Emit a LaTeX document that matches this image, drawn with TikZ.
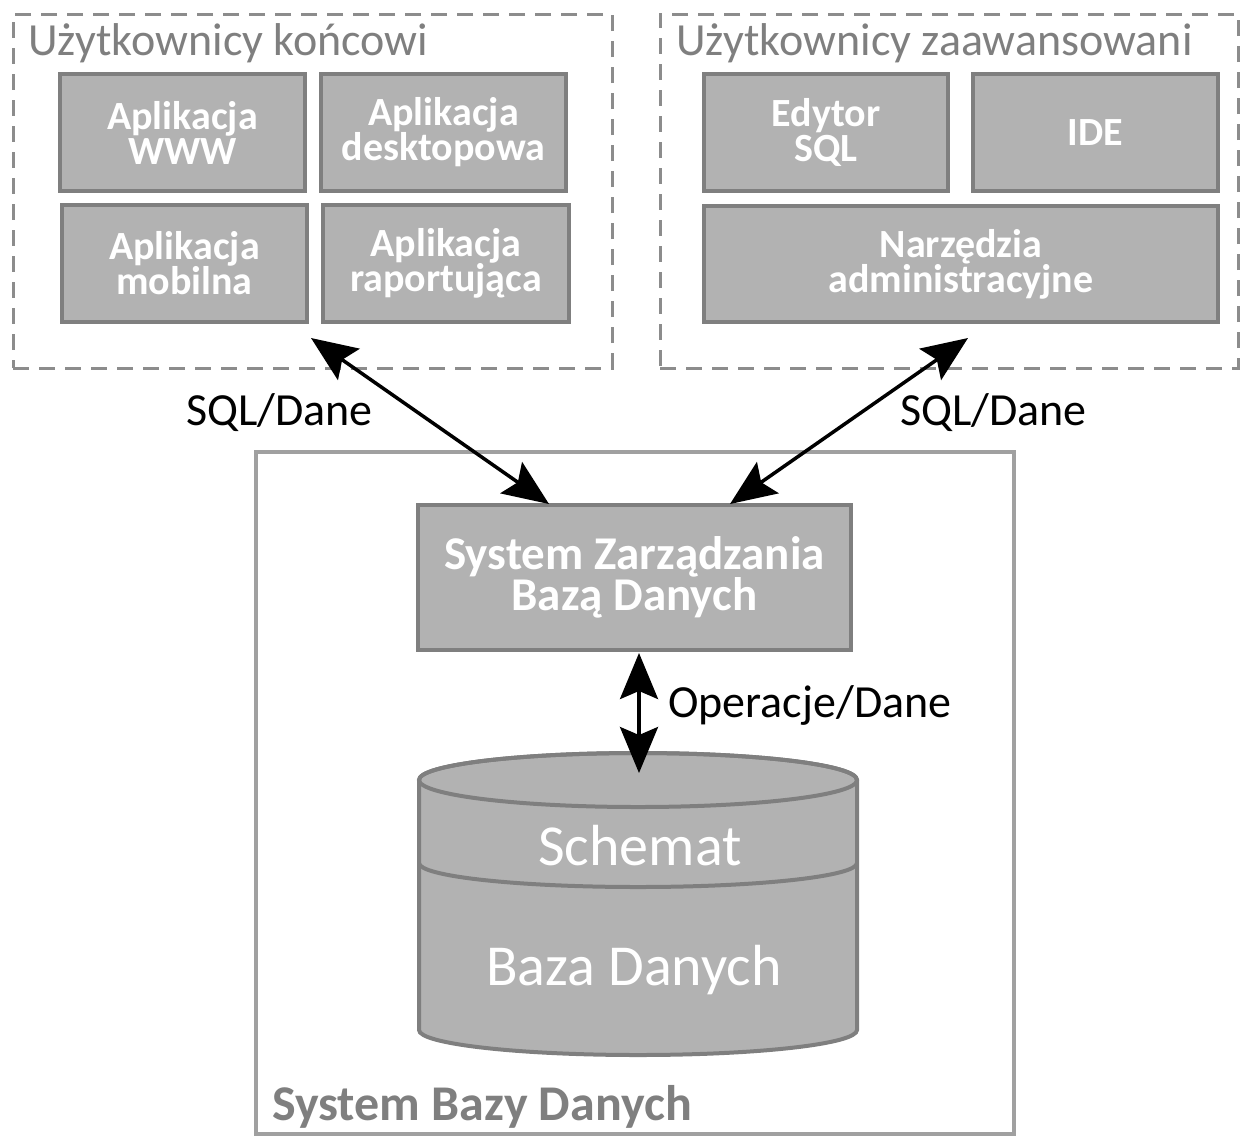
\documentclass[tikz,border=0pt]{standalone}
\usepackage{fontspec}
\setmainfont{Carlito}
\usetikzlibrary{arrows.meta}
\definecolor{boxfill}{RGB}{178,178,178}
\definecolor{boxline}{RGB}{127,127,127}
\definecolor{dashgray}{RGB}{140,140,140}
\definecolor{titlegray}{RGB}{127,127,127}
\definecolor{outergray}{RGB}{160,160,160}
\begin{document}
\begin{tikzpicture}[x=1pt,y=1pt,
  appbox/.style={draw=boxline, fill=boxfill, line width=4pt, minimum width=245pt, minimum height=117pt, inner sep=0pt, align=center, text=white, font=\fontsize{40}{35}\selectfont\bfseries},
  groupbox/.style={draw=dashgray, line width=3pt, dash pattern=on 16pt off 10pt, inner sep=0pt},
  grouptitle/.style={anchor=base west, text=titlegray, inner sep=0pt, font=\fontsize{46}{55}\selectfont},
  lbl/.style={anchor=base west, inner sep=0pt, font=\fontsize{46}{55}\selectfont},
  cyltext/.style={anchor=base, inner sep=0pt, text=white, font=\fontsize{58}{66}\selectfont},
  conn/.style={line width=3.5pt, {Stealth[length=46pt,width=38pt,inset=8pt]}-{Stealth[length=46pt,width=38pt,inset=8pt]}},
]
\useasboundingbox (0,0) rectangle (1241,-1136);

% groups
\node[groupbox, minimum width=599pt, minimum height=354pt] (lgrp) at (312.5,-191) {};
\node[groupbox, minimum width=578pt, minimum height=354pt] (rgrp) at (949,-191) {};
\node[grouptitle] (lt) at (28,-55) {Użytkownicy końcowi};
\node[grouptitle] (rt) at (676,-55) {Użytkownicy zaawansowani};

% app boxes
\node[appbox] (www) at (182.5,-132.5) {Aplikacja\\WWW};
\node[appbox] (desk) at (443.5,-132.5) {Aplikacja\\desktopowa};
\node[appbox] (mob) at (184.5,-263.5) {Aplikacja\\mobilna};
\node[appbox, minimum width=246pt] (rap) at (446,-263.5) {Aplikacja\\raportująca};
\node[appbox, minimum width=244pt] (sqled) at (826,-132.5) {Edytor\\SQL};
\node[appbox] (ide) at (1095.5,-132.5) {IDE};
\node[appbox, minimum width=514pt, minimum height=116pt] (admin) at (961,-264) {Narzędzia\\administracyjne};

% outer system box
\node[draw=outergray, line width=4pt, minimum width=758pt, minimum height=682pt, inner sep=0pt] (sys) at (635,-793) {};
\node[anchor=base west, inner sep=0pt, text=titlegray, font=\fontsize{50}{58}\selectfont\bfseries] (syst) at (272,-1120) {System Bazy Danych};

% DBMS
\node[appbox, minimum width=433pt, minimum height=145pt, font=\fontsize{47}{40}\selectfont\bfseries] (dbms) at (634.5,-577.5) {System Zarządzania\\Bazą Danych};

% cylinder
\filldraw[fill=boxfill, draw=boxline, line width=4pt]
  (419,-780) -- (419,-1030) arc[start angle=180, end angle=360, x radius=219, y radius=25]
  -- (857,-780) arc[start angle=0, end angle=180, x radius=219, y radius=27] -- cycle;
\draw[draw=boxline, line width=4pt] (638,-780) ellipse[x radius=219, y radius=27];
\draw[draw=boxline, line width=4pt] (419,-863) arc[start angle=180, end angle=360, x radius=219, y radius=24];
\node[cyltext] (schema) at (640,-865) {Schemat};
\node[cyltext] (db) at (634,-985) {Baza Danych};
\coordinate (cyltop) at (639,-773);

% connectors
\coordinate (ltip) at (311,-338);
\coordinate (rtip) at (968,-338);
\coordinate (dl) at (549,-504);
\coordinate (dr) at (730,-504);
\coordinate (dbot) at (639,-653);
\draw[conn] (ltip) -- (dl);
\draw[conn] (rtip) -- (dr);
\draw[conn] (dbot) -- (cyltop);

\node[lbl] (l1) at (186,-425) {SQL/Dane};
\node[lbl] (l2) at (900,-425) {SQL/Dane};
\node[lbl] (l3) at (668,-717) {Operacje/Dane};
\end{tikzpicture}
\end{document}
